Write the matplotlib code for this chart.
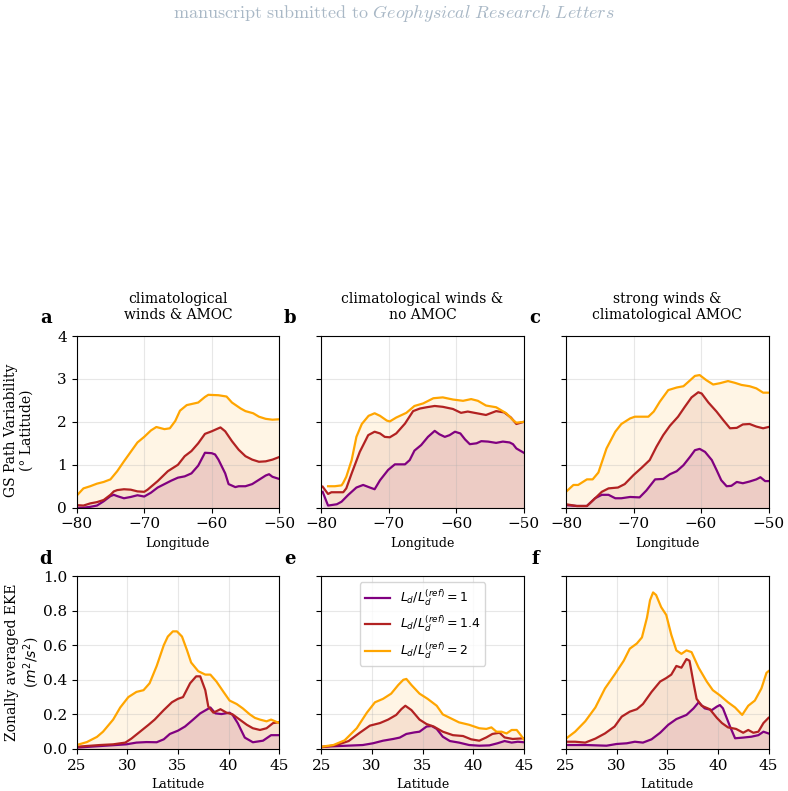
import numpy as np
import matplotlib
matplotlib.use("Agg")
import matplotlib.pyplot as plt

plt.rcParams["font.family"] = ["DejaVu Serif"]
plt.rcParams["font.size"] = 10

# ---- top row: GS path variability vs longitude ----
lon_a_orange = [-80, -79, -78, -77, -76, -75, -74, -73, -72, -71, -70, -69, -68.2, -67, -66.2, -65.4, -64.7,
                -63.7, -62, -61, -60.5, -59, -57.8, -57, -55.7, -55, -53.85, -53, -52, -51, -50]
val_a_orange = [0.28, 0.45, 0.50, 0.56, 0.60, 0.66, 0.85, 1.08, 1.30, 1.52, 1.65, 1.80, 1.88, 1.83, 1.85, 2.02, 2.26,
                2.39, 2.45, 2.58, 2.63, 2.62, 2.59, 2.45, 2.31, 2.25, 2.20, 2.12, 2.07, 2.05, 2.06]
lon_a_red = [-80, -79, -78, -77, -76, -75, -74.5, -74, -73, -72, -71, -70, -69.5, -68, -66.5, -65, -64, -63, -62,
             -61, -60, -59, -58.7, -58, -57, -56, -55, -54, -53, -52, -51, -50]
val_a_red = [0.06, 0.05, 0.10, 0.13, 0.18, 0.30, 0.38, 0.41, 0.43, 0.42, 0.38, 0.37, 0.42, 0.62, 0.85, 1.0, 1.2, 1.32,
             1.5, 1.72, 1.78, 1.85, 1.87, 1.78, 1.55, 1.35, 1.2, 1.12, 1.07, 1.08, 1.12, 1.18]
lon_a_purple = [-80, -79, -78, -77, -76, -75, -74.5, -74, -73, -72, -71, -70, -69, -68, -67, -66, -65, -64, -63,
                -62, -61, -60, -59.5, -59, -58, -57.5, -56.5, -56, -55, -54, -53, -52, -51.5, -51, -50]
val_a_purple = [0.0, 0.0, 0.02, 0.05, 0.15, 0.27, 0.30, 0.27, 0.22, 0.25, 0.29, 0.26, 0.35, 0.47, 0.55, 0.63, 0.70,
                0.73, 0.80, 0.98, 1.28, 1.27, 1.24, 1.12, 0.80, 0.55, 0.48, 0.50, 0.50, 0.55, 0.65, 0.75, 0.78,
                0.72, 0.67]

lon_b_orange = [-79, -78, -77, -76.75, -76.3, -75.5, -74.8, -74, -73, -72.1, -71.3, -70.3, -69.85, -68.9, -67.4,
                -66.2, -64.9, -63.4, -62, -60.5, -59, -57.8, -56.8, -55.6, -54.1, -52.6, -51.6, -51.1, -50]
val_b_orange = [0.50, 0.50, 0.52, 0.58, 0.72, 1.11, 1.65, 1.95, 2.14, 2.20, 2.14, 2.03, 2.01, 2.10, 2.21,
                2.37, 2.43, 2.55, 2.57, 2.52, 2.49, 2.53, 2.49, 2.38, 2.34, 2.20, 2.04, 1.98, 2.0]
lon_b_red = [-79.8, -79, -78.5, -76.75, -76.3, -75.5, -74.3, -73.05, -72.1, -71.3, -70.6, -69.85, -68.9, -67.6,
             -66.4, -65.4, -64.4, -63.2, -62, -60.5, -59.3, -58.3, -57.3, -55.6, -54.1, -52.9, -51.9, -51.1, -50]
val_b_red = [0.49, 0.32, 0.36, 0.36, 0.45, 0.80, 1.30, 1.69, 1.77, 1.73, 1.65, 1.64, 1.73, 1.96,
             2.25, 2.31, 2.34, 2.37, 2.35, 2.30, 2.21, 2.24, 2.21, 2.16, 2.25, 2.22, 2.10, 1.95, 2.0]
lon_b_purple = [-79.8, -79, -77.7, -77, -76, -74.8, -73.8, -72.8, -72.1, -71.3, -70.1, -69.1, -67.6, -66.9, -66.2,
                -65.2, -64.2, -63.2, -62.5, -61.7, -61, -60.2, -59.4, -58.7, -58, -57, -56.3, -55.3, -54.1,
                -53.1, -52.1, -51.6, -51.1, -50]
val_b_purple = [0.37, 0.05, 0.08, 0.14, 0.30, 0.47, 0.53, 0.47, 0.43, 0.64, 0.88, 1.01, 1.01, 1.11, 1.33,
                1.46, 1.65, 1.79, 1.71, 1.65, 1.69, 1.77, 1.73, 1.59, 1.48, 1.50, 1.55, 1.54, 1.51,
                1.54, 1.52, 1.48, 1.38, 1.28]

lon_c_orange = [-80, -78.9, -78.2, -76.9, -76.05, -75.2, -74, -72.7, -71.8, -70.5, -69.8, -67.8, -67, -66.1, -64.85,
                -63.6, -62.6, -61.6, -60.9, -60.2, -59.2, -58.2, -57.2, -56, -55, -54, -52.8, -51.8, -50.8, -50]
val_c_orange = [0.37, 0.53, 0.53, 0.66, 0.66, 0.82, 1.38, 1.77, 1.95, 2.08, 2.12, 2.12, 2.24, 2.47, 2.74,
                2.80, 2.83, 2.97, 3.07, 3.09, 2.97, 2.87, 2.90, 2.95, 2.91, 2.86, 2.83, 2.78, 2.68, 2.68]
lon_c_red = [-80, -78.4, -76.9, -75.95, -74.7, -73.7, -72.3, -71.3, -70, -68.8, -67.6, -66.6, -65.6, -64.6, -63.4,
             -62.4, -61.4, -60.4, -59.9, -58.9, -57.7, -56.7, -55.7, -54.7, -53.8, -52.8, -51.8, -50.8, -50]
val_c_red = [0.08, 0.04, 0.04, 0.18, 0.37, 0.45, 0.47, 0.55, 0.76, 0.93, 1.11, 1.42, 1.69, 1.91, 2.12,
             2.35, 2.57, 2.69, 2.66, 2.45, 2.24, 2.04, 1.85, 1.86, 1.94, 1.95, 1.89, 1.85, 1.88]
lon_c_purple = [-80, -78.4, -76.9, -75.7, -74.7, -73.7, -72.7, -71.8, -70.5, -69.1, -68.1, -66.8, -65.6, -64.6,
                -63.6, -62.6, -61.6, -60.9, -60.2, -59.4, -58.4, -57.7, -57, -56.2, -55.5, -54.7, -53.8, -52.8,
                -51.8, -51.2, -50.5, -50]
val_c_purple = [0.06, 0.04, 0.04, 0.22, 0.30, 0.30, 0.22, 0.22, 0.25, 0.24, 0.40, 0.66, 0.67, 0.78,
                0.85, 0.99, 1.19, 1.34, 1.37, 1.30, 1.11, 0.88, 0.64, 0.50, 0.51, 0.60, 0.57, 0.61,
                0.66, 0.71, 0.62, 0.62]

# ---- bottom row: zonally averaged EKE vs latitude ----
lat_d_orange = [25, 26, 27, 27.6, 28.6, 29.3, 30.1, 30.9, 31.6, 32.2, 32.9, 33.6, 34.0, 34.5, 34.9, 35.4, 35.9,
                36.3, 37.0, 37.7, 38.2, 38.8, 39.5, 40.1, 40.8, 41.4, 42.1, 42.6, 43.1, 43.75, 44.2, 44.6, 45]
val_d_orange = [0.023, 0.04, 0.07, 0.10, 0.17, 0.24, 0.30, 0.33, 0.34, 0.38, 0.48, 0.60, 0.65, 0.68, 0.68, 0.65,
                0.57, 0.50, 0.45, 0.43, 0.43, 0.39, 0.33, 0.28, 0.26, 0.235, 0.20, 0.18, 0.17, 0.16, 0.17,
                0.16, 0.15]
lat_d_red = [25, 27.3, 28.6, 29.8, 30.4, 31.25, 32.1, 32.7, 33.6, 34.4, 35, 35.5, 36.2, 36.8, 37.2, 37.7, 38,
             38.5, 39.2, 39.8, 40.4, 41.1, 41.8, 42.4, 43.1, 43.75, 44.4, 45]
val_d_red = [0.013, 0.023, 0.027, 0.037, 0.06, 0.10, 0.14, 0.17, 0.225, 0.27, 0.29, 0.30, 0.38, 0.42, 0.42,
             0.34, 0.245, 0.21, 0.23, 0.21, 0.20, 0.17, 0.14, 0.12, 0.11, 0.12, 0.15, 0.155]
lat_d_purple = [25, 27.3, 29.9, 30.9, 31.9, 32.9, 33.6, 34.2, 35, 35.7, 36.5, 37.2, 38.2, 38.7, 39.3, 40.1, 40.4,
                40.9, 41.6, 42.4, 43.4, 44.2, 45]
val_d_purple = [0.008, 0.017, 0.027, 0.037, 0.04, 0.039, 0.056, 0.087, 0.106, 0.13, 0.17, 0.206, 0.24, 0.206,
                0.202, 0.21, 0.197, 0.15, 0.066, 0.039, 0.048, 0.08, 0.08]

lat_e_orange = [25, 26.2, 27.3, 28.5, 29.5, 30.3, 31.1, 31.9, 32.6, 33.1, 33.4, 33.9, 34.7, 35.5, 36.4, 37, 37.7,
                38.6, 39.6, 40.6, 41.3, 41.8, 42.3, 42.8, 43.3, 43.8, 44.3, 44.7, 45]
val_e_orange = [0.013, 0.023, 0.05, 0.12, 0.21, 0.27, 0.29, 0.32, 0.37, 0.40, 0.405, 0.37, 0.32, 0.29, 0.25,
                0.20, 0.18, 0.154, 0.14, 0.12, 0.116, 0.125, 0.10, 0.10, 0.09, 0.11, 0.11, 0.08, 0.056]
lat_e_red = [25, 26.5, 27.7, 28.8, 29.8, 30.8, 31.6, 32.4, 32.9, 33.3, 33.9, 34.7, 35.4, 36.1, 37, 38, 39, 39.8,
             40.6, 41.3, 41.9, 42.6, 43.1, 43.9, 45]
val_e_red = [0.01, 0.023, 0.046, 0.094, 0.135, 0.15, 0.17, 0.197, 0.23, 0.25, 0.225, 0.17, 0.144, 0.13, 0.10,
             0.08, 0.075, 0.056, 0.048, 0.067, 0.087, 0.094, 0.067, 0.058, 0.062]
lat_e_purple = [25, 27.5, 29.1, 30.1, 31.1, 32.1, 32.75, 33.4, 34.2, 34.7, 35.4, 35.9, 36.4, 37, 37.7, 38.6, 39.6,
                40.6, 41.6, 42.4, 43.1, 43.8, 44.4, 45]
val_e_purple = [0.013, 0.019, 0.023, 0.033, 0.048, 0.058, 0.066, 0.087, 0.096, 0.10, 0.13, 0.133, 0.116, 0.071,
                0.046, 0.037, 0.023, 0.019, 0.021, 0.033, 0.046, 0.037, 0.042, 0.039]

lat_f_orange = [25, 25.9, 26.9, 27.9, 28.85, 29.8, 30.7, 31.3, 32, 32.5, 33, 33.3, 33.6, 33.9, 34.4, 34.9, 35.4,
                35.9, 36.4, 36.9, 37.4, 38.1, 38.9, 39.5, 40.2, 41, 41.7, 42.4, 43, 43.65, 44.3, 44.8, 45]
val_f_orange = [0.06, 0.10, 0.16, 0.24, 0.35, 0.43, 0.51, 0.58, 0.61, 0.645, 0.76, 0.86, 0.905, 0.89, 0.82, 0.775,
                0.66, 0.57, 0.55, 0.57, 0.56, 0.47, 0.39, 0.34, 0.31, 0.27, 0.24, 0.197, 0.25, 0.28, 0.35,
                0.44, 0.45]
lat_f_red = [25, 25.9, 26.9, 27.9, 28.85, 29.8, 30.5, 31.3, 32, 32.6, 33.45, 34.3, 34.9, 35.4, 35.9, 36.4, 36.9,
             37.2, 37.6, 37.9, 38.4, 39.2, 39.9, 40.4, 41, 41.8, 42.5, 43, 43.5, 44, 44.5, 45]
val_f_red = [0.042, 0.042, 0.037, 0.06, 0.09, 0.13, 0.187, 0.216, 0.23, 0.26, 0.33, 0.39, 0.41, 0.43, 0.48, 0.47,
             0.52, 0.51, 0.38, 0.29, 0.25, 0.23, 0.18, 0.15, 0.125, 0.116, 0.094, 0.11, 0.094, 0.10, 0.15, 0.18]
lat_f_purple = [25, 27, 29, 30, 31, 31.8, 32.6, 33.45, 34.3, 35.1, 35.9, 36.9, 37.6, 38.1, 38.7, 39.4, 39.9, 40.2,
                40.5, 41.2, 41.7, 42.5, 43.3, 44, 44.5, 45]
val_f_purple = [0.023, 0.023, 0.019, 0.029, 0.033, 0.042, 0.037, 0.056, 0.094, 0.14, 0.173, 0.197, 0.235, 0.27,
                0.235, 0.225, 0.245, 0.254, 0.235, 0.13, 0.062, 0.066, 0.071, 0.08, 0.10, 0.09]

titles = ["climatological\nwinds & AMOC", "climatological winds &\nno AMOC",
          "strong winds &\nclimatological AMOC"]
labels = [r"$L_d/L_d^{(ref)} = 1$", r"$L_d/L_d^{(ref)} = 1.4$", r"$L_d/L_d^{(ref)} = 2$"]
colors = ["purple", "firebrick", "orange"]

top_data = [
    [(lon_a_purple, val_a_purple), (lon_a_red, val_a_red), (lon_a_orange, val_a_orange)],
    [(lon_b_purple, val_b_purple), (lon_b_red, val_b_red), (lon_b_orange, val_b_orange)],
    [(lon_c_purple, val_c_purple), (lon_c_red, val_c_red), (lon_c_orange, val_c_orange)],
]
bot_data = [
    [(lat_d_purple, val_d_purple), (lat_d_red, val_d_red), (lat_d_orange, val_d_orange)],
    [(lat_e_purple, val_e_purple), (lat_e_red, val_e_red), (lat_e_orange, val_e_orange)],
    [(lat_f_purple, val_f_purple), (lat_f_red, val_f_red), (lat_f_orange, val_f_orange)],
]

W, H = 788, 791
fig = plt.figure(figsize=(W / 100, H / 100), dpi=100)

fig.text(0.5, 1 - 13 / H,
         r"$\mathrm{manuscript\ submitted\ to\ }\mathit{Geophysical\ Research\ Letters}$",
         math_fontfamily="cm", fontsize=13, color="#a9b8c6", ha="center", va="center")

lefts = [76.7, 321.3, 566]
aw = 202.5
panel_letters = [["a", "b", "c"], ["d", "e", "f"]]
letter_x = [46, 290, 535]


def draw(ax, series, xlim, ylim):
    for (x, y), c, lab in zip(series, colors, labels):
        ax.plot(x, y, color=c, lw=1.6, label=lab)
        ax.fill_between(x, 0, y, color=c, alpha=0.1, lw=0)
    ax.set_xlim(*xlim)
    ax.set_ylim(*ylim)
    ax.grid(True, alpha=0.3)
    ax.tick_params(labelsize=11)


for i in range(3):
    ax = fig.add_axes([lefts[i] / W, 1 - 507.7 / H, aw / W, (507.7 - 336) / H])
    draw(ax, top_data[i], (-80, -50), (0, 4))
    ax.set_xticks([-80, -70, -60, -50])
    ax.set_yticks([0, 1, 2, 3, 4])
    ax.set_xlabel("Longitude", fontsize=9)
    ax.set_title(titles[i], fontsize=10, pad=12)
    if i == 0:
        ax.set_ylabel("GS Path Variability\n(° Latitude)", fontsize=10)
        ax.yaxis.set_label_coords(-0.211, 0.45)
    else:
        ax.set_yticklabels([])
    fig.text(letter_x[i] / W, 1 - 318 / H, panel_letters[0][i], fontsize=13,
             fontweight="bold", ha="center", va="center")

    ax = fig.add_axes([lefts[i] / W, 1 - 749 / H, aw / W, (749 - 576) / H])
    draw(ax, bot_data[i], (25, 45), (0, 1))
    ax.set_xticks([25, 30, 35, 40, 45])
    ax.set_yticks([0, 0.2, 0.4, 0.6, 0.8, 1.0])
    ax.set_xlabel("Latitude", fontsize=9)
    if i == 0:
        ax.set_ylabel("Zonally averaged EKE\n($m^2/s^2$)", fontsize=10)
        ax.yaxis.set_label_coords(-0.171, 0.5)
    else:
        ax.set_yticklabels([])
    if i == 1:
        ax.legend(loc="upper center", prop={"family": "DejaVu Sans", "size": 9})
    fig.text(letter_x[i] / W, 1 - 559 / H, panel_letters[1][i], fontsize=13,
             fontweight="bold", ha="center", va="center")

fig.savefig("out.png", dpi=100)
